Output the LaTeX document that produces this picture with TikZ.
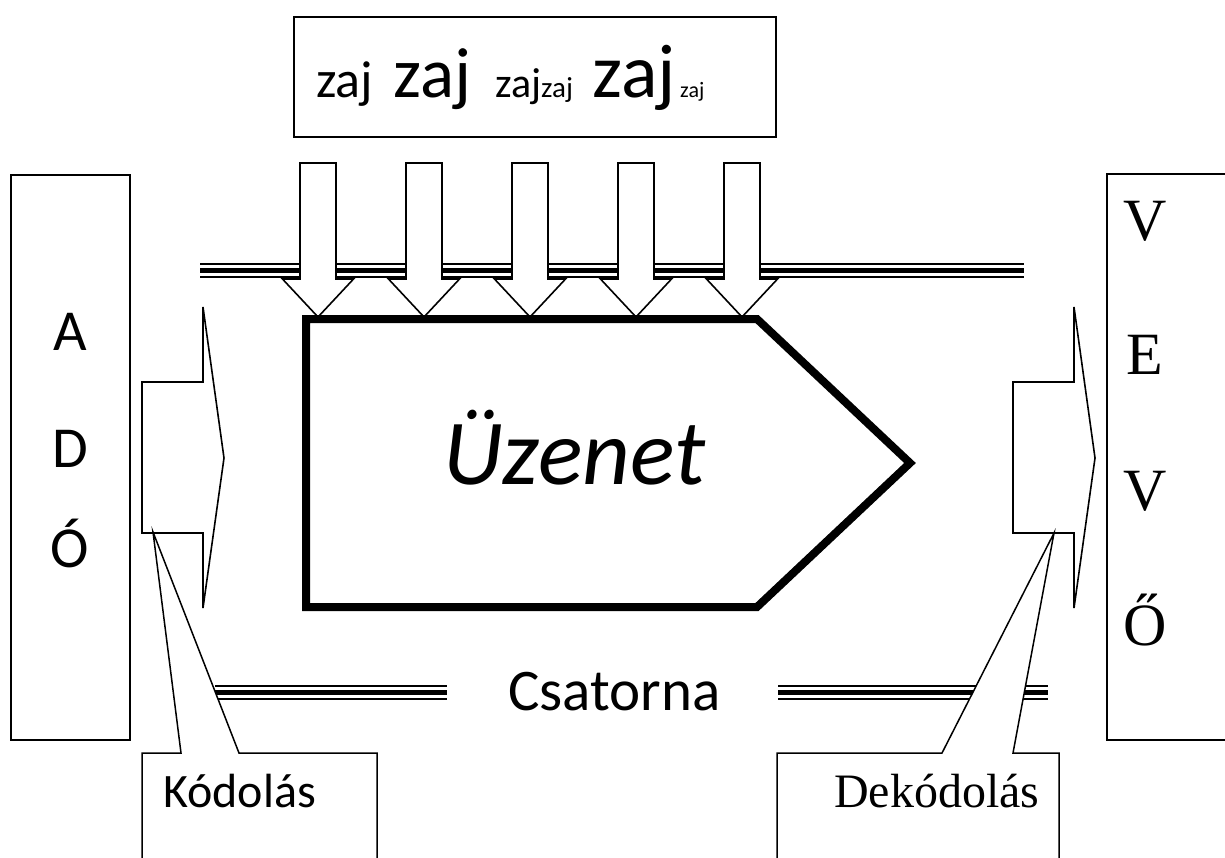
\documentclass[tikz,border=0pt]{standalone}
\usepackage{fontspec}
\setmainfont{Liberation Serif}
\newfontfamily\calfont{Carlito}
\newcommand{\fsz}[1]{\fontsize{#1}{#1}\selectfont}
\begin{document}
\begin{tikzpicture}[x=1pt,y=-1pt,
  txt/.style={inner sep=0pt, anchor=base west},
  ctxt/.style={inner sep=0pt, anchor=base},
  boxline/.style={line width=1.3pt, line join=miter},
  blockarrow/.style={line width=1.6pt, fill=white, line join=miter},
  callout/.style={line width=1.5pt, fill=white, line join=miter},
  thinrail/.style={line width=1.8pt},
  thickrail/.style={line width=5pt},
  msg/.style={line width=8pt, line join=miter}]
\useasboundingbox (0,0) rectangle (1225,857);

% noise box
\draw[boxline] (294,17) rectangle (776,137);
\node[txt] (z1) at (316,97) {\calfont\fsz{52}zaj};
\node[txt] (z2) at (393,97) {\calfont\fsz{71}zaj};
\node[txt] (z3) at (495,97) {\calfont\fsz{42}zaj};
\node[txt] (z4) at (541,97) {\calfont\fsz{29}zaj};
\node[txt] (z5) at (592,97) {\calfont\fsz{76}zaj};
\node[txt] (z6) at (680,97) {\calfont\fsz{22}zaj};

% upper channel rail
\draw[thinrail] (200,264) -- (1024,264);
\draw[thickrail] (200,270.5) -- (1024,270.5);
\draw[thinrail] (200,277) -- (1024,277);

% noise arrows
\foreach \c in {318,424,530,636,742}{
  \draw[blockarrow] (\c-18,163) -- (\c+18,163) -- (\c+18,279) -- (\c+35.5,279)
     -- (\c,317) -- (\c-35.5,279) -- (\c-18,279) -- cycle;
}

% message
\draw[msg] (306,319) -- (757,319) -- (910,463) -- (757,607) -- (306,607) -- cycle;
\node[txt] (uzenet) at (443,484) {\calfont\itshape\fsz{93}Üzenet};

% sender box
\draw[boxline] (11,175) rectangle (130,740);
\node[ctxt] (a) at (70,350) {\calfont\fsz{58}A};
\node[ctxt] (d) at (70,467) {\calfont\fsz{58}D};
\node[ctxt] (o) at (70,567) {\calfont\fsz{58}Ó};

% receiver box
\draw[boxline] (1240,174) -- (1107,174) -- (1107,740) -- (1240,740);
\node[ctxt] (v1) at (1145,240) {\fsz{60}V};
\node[ctxt] (e) at (1145,374) {\fsz{60}E};
\node[ctxt] (v2) at (1145,510) {\fsz{60}V};
\node[ctxt] (oo) at (1145,645) {\fsz{60}Ő};

% encode / decode arrows
\draw[blockarrow] (142,382) -- (203,382) -- (203,307) -- (224,458) -- (203,608)
   -- (203,533) -- (142,533) -- cycle;
\draw[blockarrow] (1013,382) -- (1074,382) -- (1074,307) -- (1095,458) -- (1074,608)
   -- (1074,533) -- (1013,533) -- cycle;

% lower channel rails
\draw[thinrail] (215,686) -- (447,686);
\draw[thickrail] (215,692.5) -- (447,692.5);
\draw[thinrail] (215,699) -- (447,699);
\draw[thinrail] (778,686) -- (1048,686);
\draw[thickrail] (778,692.5) -- (1048,692.5);
\draw[thinrail] (778,699) -- (1048,699);
\node[txt] (csat) at (508,710) {\calfont\fsz{59}Csatorna};

% callouts
\draw[callout] (142,880) -- (142,753) -- (181,753) -- (153,532) -- (239,753)
   -- (377,753) -- (377,880) -- cycle;
\node[txt] (kod) at (163,807) {\calfont\fsz{48}Kódolás};
\draw[callout] (777,880) -- (777,753) -- (942,753) -- (1054,533) -- (1013,753)
   -- (1059,753) -- (1059,880) -- cycle;
\node[txt] (dekod) at (834,807) {\fsz{48}Dekódolás};
\end{tikzpicture}
\end{document}
